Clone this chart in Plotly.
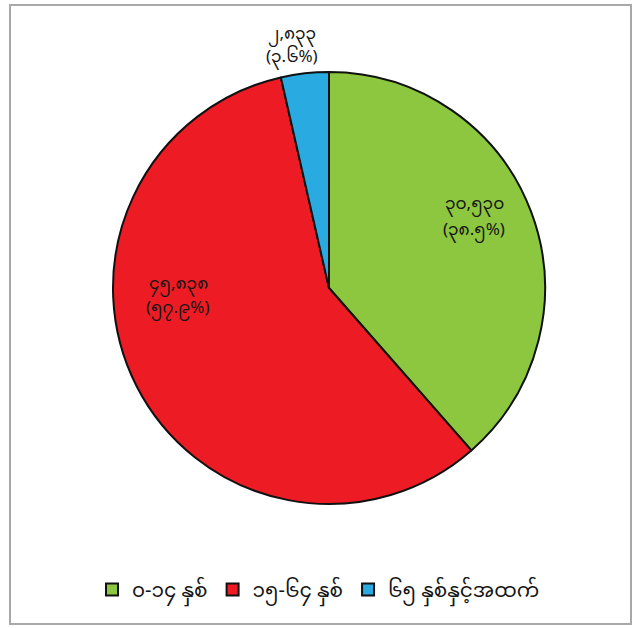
import plotly.graph_objects as go

categories = ["၀-၁၄ နှစ်", "၁၅-၆၄ နှစ်", "၆၅ နှစ်နှင့်အထက်"]
values = [30530, 45838, 2833]
value_labels = ["၃၀,၅၃၀", "၄၅,၈၃၈", "၂,၈၃၃"]
pct_labels = ["(၃၈.၅%)", "(၅၇.၉%)", "(၃.၆%)"]
colors = ["#8DC63F", "#ED1C24", "#29ABE2"]

W, H = 637, 628
cx, cy, r = 329, 288, 216

fig = go.Figure(go.Pie(
    labels=categories,
    values=values,
    sort=False,
    direction="clockwise",
    rotation=0,
    marker=dict(colors=colors, line=dict(color="#111111", width=2)),
    textinfo="none",
    hoverinfo="label+value+percent",
    domain=dict(x=[(cx - r) / W, (cx + r) / W], y=[1 - (cy + r) / H, 1 - (cy - r) / H]),
))

font_family = "Noto Sans Myanmar, Padauk, Myanmar Text, Noto Sans, DejaVu Sans"
# (x center, first line y, second line y) in pixels
label_pos = [(474, 205, 231), (178, 285, 309), (292, 35, 58)]
for (x, y1, y2), v, p in zip(label_pos, value_labels, pct_labels):
    for y, t in ((y1, v), (y2, p)):
        fig.add_annotation(x=x / W, y=1 - y / H, xref="paper", yref="paper",
                           xanchor="center", yanchor="middle",
                           text=t, showarrow=False,
                           font=dict(size=17, color="#151515", family=font_family))

fig.add_shape(type="rect", xref="paper", yref="paper",
              x0=10 / W, x1=631 / W, y0=1 - 624 / H, y1=1 - 5 / H,
              line=dict(color="#a8a8a8", width=2))

fig.update_layout(
    width=W, height=H,
    margin=dict(l=0, r=0, t=0, b=0),
    paper_bgcolor="white",
    font=dict(family=font_family, size=17, color="#151515"),
    legend=dict(orientation="h", x=0.5, xanchor="center", y=1 - 570 / H, yanchor="top",
                font=dict(size=20), itemwidth=30),
    showlegend=True,
)

fig.write_html("out.html", config={"displayModeBar": False},
               post_script="document.body.style.margin='0';")
